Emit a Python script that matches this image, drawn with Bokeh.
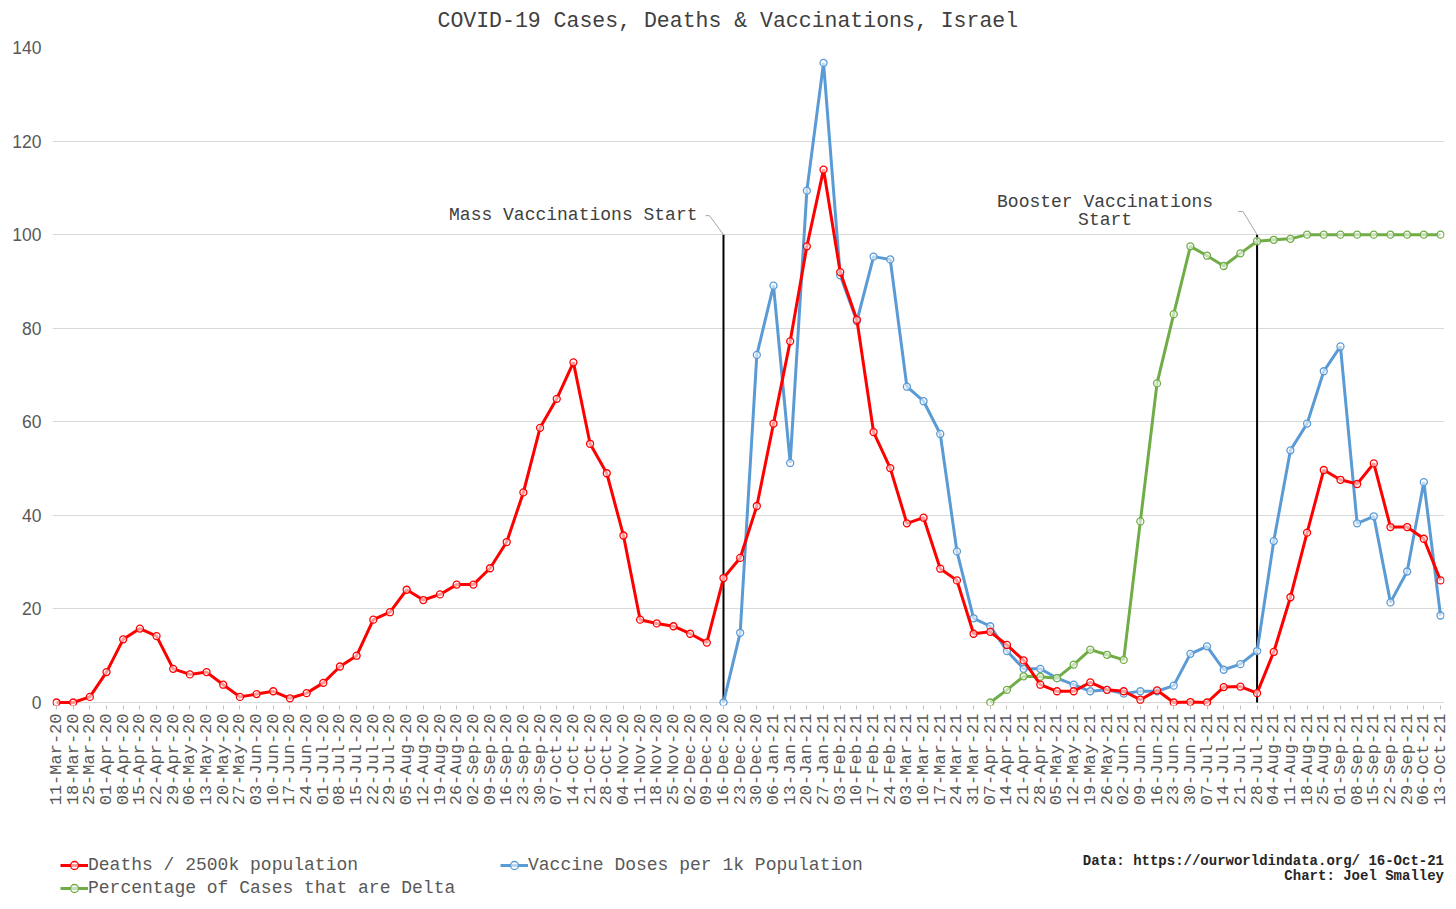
import math
from bokeh.plotting import figure
from bokeh.layouts import column
from bokeh.models import Range1d, FixedTicker, Label, Legend, LegendItem
from bokeh.embed import file_html
from bokeh.resources import INLINE

# ---------------- data ----------------
dates = [
    "11-Mar-20", "18-Mar-20", "25-Mar-20", "01-Apr-20", "08-Apr-20", "15-Apr-20", "22-Apr-20", "29-Apr-20",
    "06-May-20", "13-May-20", "20-May-20", "27-May-20", "03-Jun-20", "10-Jun-20", "17-Jun-20", "24-Jun-20",
    "01-Jul-20", "08-Jul-20", "15-Jul-20", "22-Jul-20", "29-Jul-20", "05-Aug-20", "12-Aug-20", "19-Aug-20",
    "26-Aug-20", "02-Sep-20", "09-Sep-20", "16-Sep-20", "23-Sep-20", "30-Sep-20", "07-Oct-20", "14-Oct-20",
    "21-Oct-20", "28-Oct-20", "04-Nov-20", "11-Nov-20", "18-Nov-20", "25-Nov-20", "02-Dec-20", "09-Dec-20",
    "16-Dec-20", "23-Dec-20", "30-Dec-20",
    "06-Jan-21", "13-Jan-21", "20-Jan-21", "27-Jan-21", "03-Feb-21", "10-Feb-21", "17-Feb-21", "24-Feb-21",
    "03-Mar-21", "10-Mar-21", "17-Mar-21", "24-Mar-21", "31-Mar-21", "07-Apr-21", "14-Apr-21", "21-Apr-21",
    "28-Apr-21", "05-May-21", "12-May-21", "19-May-21", "26-May-21", "02-Jun-21", "09-Jun-21", "16-Jun-21",
    "23-Jun-21", "30-Jun-21", "07-Jul-21", "14-Jul-21", "21-Jul-21", "28-Jul-21", "04-Aug-21", "11-Aug-21",
    "18-Aug-21", "25-Aug-21", "01-Sep-21", "08-Sep-21", "15-Sep-21", "22-Sep-21", "29-Sep-21", "06-Oct-21",
    "13-Oct-21",
]

deaths = [
    0, 0, 1.2, 6.5, 13.5, 15.8, 14.2, 7.2, 6.0, 6.5,
    3.8, 1.2, 1.8, 2.4, 0.9, 2.0, 4.2, 7.7, 10.0, 17.7,
    19.3, 24.1, 21.9, 23.1, 25.2, 25.2, 28.7, 34.3, 44.9, 58.7,
    64.9, 72.7, 55.3, 49.0, 35.7, 17.7, 16.9, 16.3, 14.7, 12.8,
    26.6, 30.9, 42.0, 59.6, 77.2, 97.5, 113.9, 92.0, 81.8, 57.8,
    50.1, 38.3, 39.5, 28.6, 26.1, 14.7, 15.1, 12.3, 9.0, 3.8,
    2.4, 2.4, 4.3, 2.7, 2.4, 0.6, 2.6, 0.0, 0.1, 0.0,
    3.3, 3.4, 2.0, 10.8, 22.5, 36.3, 49.7, 47.6, 46.7, 51.1,
    37.5, 37.5, 35.0, 26.1,
]

vaccine_start = "16-Dec-20"
vaccine = [
    0, 14.9, 74.3, 89.1, 51.2, 109.4, 136.7, 91.3, 81.5, 95.3,
    94.7, 67.5, 64.4, 57.4, 32.3, 18.0, 16.3, 11.0, 7.2, 7.2,
    5.2, 3.8, 2.4, 2.7, 1.9, 2.4, 2.4, 3.6, 10.4, 12.0,
    7.0, 8.2, 11.0, 34.5, 53.9, 59.6, 70.8, 76.1, 38.3, 39.8,
    21.4, 28.0, 47.1, 18.6,
]

delta_start = "07-Apr-21"
delta = [
    0, 2.7, 5.6, 5.5, 5.2, 8.1, 11.3, 10.2, 9.1, 38.7,
    68.2, 83.0, 97.5, 95.5, 93.3, 96.0, 98.6, 98.9, 99.1, 100,
    100, 100, 100, 100, 100, 100, 100, 100,
]

event_dates = ["16-Dec-20", "28-Jul-21"]
event_top = 100
y_ticks = [0, 20, 40, 60, 80, 100, 120, 140]

series_names = ["Deaths / 2500k population", "Vaccine Doses per 1k Population",
                "Percentage of Cases that are Delta"]
title_text = "COVID-19 Cases, Deaths & Vaccinations, Israel"
source_lines = ["Data: https://ourworldindata.org/ 16-Oct-21", "Chart: Joel Smalley"]

# ---------------- styling ----------------
RED, BLUE, GREEN = "#FF0000", "#5B9BD5", "#70AD47"
MONO = "Liberation Mono"
GREY_TXT = "#595959"

W = 1450
H0, H1, H2 = 37, 793, 75          # header, main, footer heights
BL, BR, BT, BB = 52, 6, 10, 125
EDGE = 4       # px between frame edge and first/last point
ZERO_PAD = 3   # px between frame bottom and y=0

n = len(dates)
xs = list(range(n))
v0 = dates.index(vaccine_start)
d0 = dates.index(delta_start)
xv = list(range(v0, v0 + len(vaccine)))
xd = list(range(d0, d0 + len(delta)))

frame_w = W - BL - BR
frame_h = H1 - BT - BB
px_x = (frame_w - 2 * EDGE) / (n - 1)
px_y = (frame_h - ZERO_PAD) / y_ticks[-1]
XPAD = EDGE / px_x
YPAD = ZERO_PAD / px_y


def blank_panel(height):
    fig = figure(width=W, height=height, output_backend="svg", toolbar_location=None,
                 x_range=Range1d(BL, W - BR), y_range=Range1d(height, 0),
                 x_axis_type=None, y_axis_type=None,
                 min_border_left=BL, min_border_right=BR, min_border_top=0, min_border_bottom=0)
    fig.outline_line_color = None
    fig.xgrid.grid_line_color = None
    fig.ygrid.grid_line_color = None
    fig.background_fill_color = "white"
    fig.border_fill_color = "white"
    return fig


# ---------------- header (title) ----------------
hdr = blank_panel(H0)
hdr.add_layout(Label(x=437, y=20, text=title_text, text_align="left", text_baseline="middle",
                     text_font=MONO, text_font_size="21.5px", text_color="#404040"))

# ---------------- main plot ----------------
p = figure(width=W, height=H1, output_backend="svg", toolbar_location=None,
           x_range=Range1d(-XPAD, n - 1 + XPAD), y_range=Range1d(-YPAD, y_ticks[-1]),
           min_border_left=BL, min_border_right=BR, min_border_top=BT, min_border_bottom=BB)

p.outline_line_color = None
p.background_fill_color = "white"
p.border_fill_color = "white"

p.xaxis.ticker = FixedTicker(ticks=xs)
p.xaxis.major_label_overrides = {i: d for i, d in enumerate(dates)}
p.xaxis.major_label_orientation = math.pi / 2
p.xaxis.major_label_text_font = MONO
p.xaxis.major_label_text_font_size = "17px"
p.xaxis.major_label_text_color = GREY_TXT
p.xaxis.major_label_standoff = 4
p.xaxis.axis_line_color = None
p.xaxis.major_tick_line_color = "#BFBFBF"
p.xaxis.major_tick_out = 4
p.xaxis.major_tick_in = 0
p.xaxis.minor_tick_line_color = None

p.yaxis.ticker = FixedTicker(ticks=y_ticks)
p.yaxis.major_label_text_font = "Liberation Sans"
p.yaxis.major_label_text_font_size = "17.5px"
p.yaxis.major_label_text_color = GREY_TXT
p.yaxis.major_label_standoff = 5
p.yaxis.axis_line_color = None
p.yaxis.major_tick_line_color = None
p.yaxis.minor_tick_line_color = None

p.xgrid.grid_line_color = None
p.ygrid.grid_line_color = "#D9D9D9"
p.ygrid.grid_line_width = 1

# event vertical lines
ev_idx = [dates.index(d) for d in event_dates]
p.segment(x0=ev_idx, y0=[0] * len(ev_idx), x1=ev_idx, y1=[event_top] * len(ev_idx),
          line_color="black", line_width=2)


def series(fig, x, y, color):
    l = fig.line(x, y, line_color=color, line_width=3)
    s = fig.scatter(x, y, marker="circle", size=7, line_color=color, fill_color="white",
                    fill_alpha=0.6, line_width=1.3)
    return l, s


series(p, xv, vaccine, BLUE)
series(p, xd, delta, GREEN)
series(p, xs, deaths, RED)


# annotations with leader lines (offsets in pixels from top of event line)
def leader(ix, pts):
    p.line([ix + dx / px_x for dx, dy in pts], [event_top + dy / px_y for dx, dy in pts],
           line_color="#A6A6A6", line_width=1)


ann_style = dict(text_font=MONO, text_font_size="18px", text_color="#404040", text_baseline="middle")
leader(ev_idx[0], [(-18, 19), (-14, 19), (0, 0)])
p.add_layout(Label(x=ev_idx[0], y=event_top, x_offset=-26, y_offset=20,
                   text="Mass Vaccinations Start", text_align="right", **ann_style))

leader(ev_idx[1], [(-19, 23), (-14, 23), (0, 0)])
p.add_layout(Label(x=ev_idx[1], y=event_top, x_offset=-152, y_offset=33,
                   text="Booster Vaccinations", text_align="center", **ann_style))
p.add_layout(Label(x=ev_idx[1], y=event_top, x_offset=-152, y_offset=15,
                   text="Start", text_align="center", **ann_style))

# ---------------- footer (legend + source) ----------------
f = blank_panel(H2)
NAN = float("nan")
items = []
for name, color in zip(series_names, [RED, BLUE, GREEN]):
    l, s = series(f, [NAN], [NAN], color)
    items.append(LegendItem(label=name, renderers=[l, s]))

legend = Legend(items=items, location=(60 - BL, 7), orientation="horizontal", ncols=2,
                glyph_width=28, glyph_height=20, label_standoff=0, label_width=409,
                label_height=20, spacing=3, padding=0, margin=0,
                label_text_font=MONO, label_text_font_size="18px", label_text_color=GREY_TXT,
                background_fill_alpha=0, border_line_color=None)
f.add_layout(legend)

for txt, yy in zip(source_lines, [30, 45]):
    f.add_layout(Label(x=W - BR - 0.5, y=yy, text=txt, text_align="right", text_baseline="middle",
                       text_font=MONO, text_font_size="14px", text_font_style="bold",
                       text_color="#262626"))

layout = column(hdr, p, f, spacing=0)
open("out.html", "w").write(file_html(layout, INLINE))
